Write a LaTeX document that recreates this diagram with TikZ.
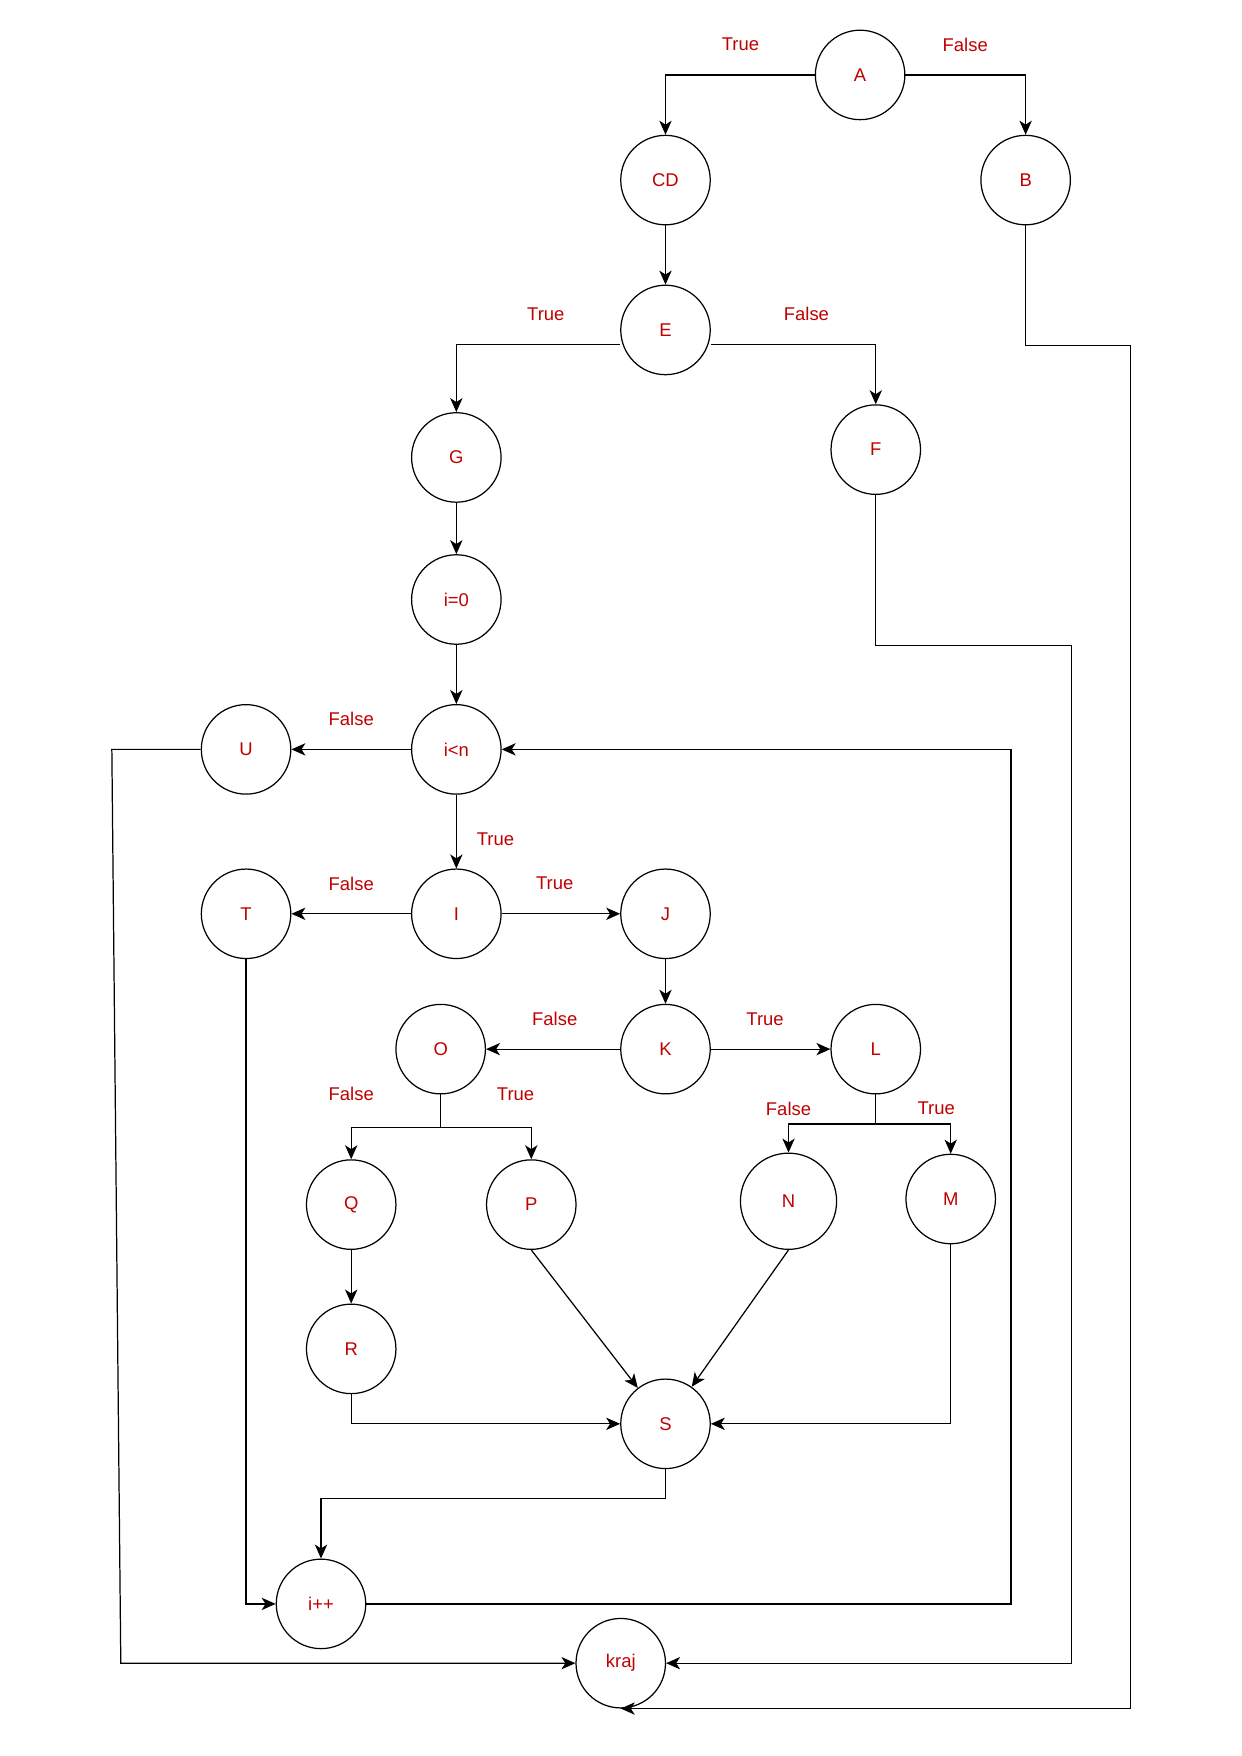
\documentclass[tikz,border=0pt]{standalone}
\usepackage{fontspec}
\setmainfont{Liberation Sans}
\usepackage{xcolor}
\usetikzlibrary{arrows.meta}
\definecolor{lblred}{HTML}{C00000}

\begin{document}
\begin{tikzpicture}[x=1pt,y=-1pt,
  st/.style={circle,draw,line width=1.1pt,minimum size=80pt,inner sep=0pt,
    text=lblred,font=\fontsize{16.5}{19}\selectfont},
  lbl/.style={text=lblred,font=\fontsize{16.5}{19}\selectfont},
  arr/.style={line width=1.1pt,-{Stealth[length=12.5pt,width=11pt,inset=3.5pt]}},
  ln/.style={line width=1.1pt}]
\useasboundingbox (0,0) rectangle (1110,1570);
\node[st] (A) at (769,67) {A};
\node[st] (CD) at (595,161) {CD};
\node[st] (B) at (917,161) {B};
\node[st] (E) at (595,295) {E};
\node[st] (G) at (408,409) {G};
\node[st] (F) at (783,402) {F};
\node[st] (i0) at (408,536) {i=0};
\node[st] (in) at (408,670) {i<n};
\node[st] (U) at (220,670) {U};
\node[st] (T) at (220,817) {T};
\node[st] (I) at (408,817) {I};
\node[st] (J) at (595,817) {J};
\node[st] (K) at (595,938) {K};
\node[st] (O) at (394,938) {O};
\node[st] (L) at (783,938) {L};
\node[st] (Q) at (314,1077) {Q};
\node[st] (P) at (475,1077) {P};
\node[st,minimum size=86pt] (N) at (705,1074) {N};
\node[st] (M) at (850,1072) {M};
\node[st] (R) at (314,1206) {R};
\node[st] (S) at (595,1273) {S};
\node[st] (ipp) at (287,1434) {i++};
\node[st] (kraj) at (555,1487) {kraj};
% bends
\coordinate (b1) at (1011,309);
\coordinate (f1) at (958,577);
\coordinate (u1) at (100,670);
\coordinate (u2) at (108,1487);
\coordinate (o1) at (394,1008);
\coordinate (l1) at (783,1005);
\coordinate (s1) at (595,1340);
\coordinate (p1) at (904,1434);
% labels
\node[lbl] (tA) at (662,40) {True};
\node[lbl] (fA) at (863,40) {False};
\node[lbl] (tE) at (488,281) {True};
\node[lbl] (fE) at (721,281) {False};
\node[lbl] (fin) at (314,643) {False};
\node[lbl] (tin) at (443,750) {True};
\node[lbl] (fI) at (314,790) {False};
\node[lbl] (tI) at (496,790) {True};
\node[lbl] (fK) at (496,911) {False};
\node[lbl] (tK) at (684,911) {True};
\node[lbl] (fO) at (314,978) {False};
\node[lbl] (tO) at (461,978) {True};
\node[lbl] (fL) at (705,991) {False};
\node[lbl] (tL) at (837,991) {True};
% edges
\draw[arr] (A.west) -| (CD.north);
\draw[arr] (A.east) -| (B.north);
\draw[arr] (CD) -- (E);
\draw[arr] ([yshift=-13pt]E.west) -| (G.north);
\draw[arr] ([yshift=-13pt]E.east) -| (F.north);
\draw[arr] (B.south) |- (b1) |- (kraj.south);
\draw[arr] (G) -- (i0);
\draw[arr] (i0) -- (in);
\draw[arr] (F.south) |- (f1) |- (kraj.east);
\draw[arr] (in) -- (U);
\draw[arr] (U.west) -- (u1) -- (u2) -- (kraj.west);
\draw[arr] (in) -- (I);
\draw[arr] (I) -- (T);
\draw[arr] (I) -- (J);
\draw[arr] (J) -- (K);
\draw[arr] (K) -- (O);
\draw[arr] (K) -- (L);
\draw[ln] (O.south) -- (o1);
\draw[arr] (o1) -| (Q.north);
\draw[arr] (o1) -| (P.north);
\draw[ln] (L.south) -- (l1);
\draw[arr] (l1) -| (N.north);
\draw[arr] (l1) -| (M.north);
\draw[arr] (Q) -- (R);
\draw[arr] (R.south) |- (S.west);
\draw[arr] (P.south) -- (S);
\draw[arr] (N.south) -- (S);
\draw[arr] (M.south) |- (S.east);
\draw[arr] (S.south) -- (s1) -| (ipp.north);
\draw[arr] (T.south) |- (ipp.west);
\draw[arr] (ipp.east) -- (p1) |- (in.east);
\end{tikzpicture}
\end{document}
